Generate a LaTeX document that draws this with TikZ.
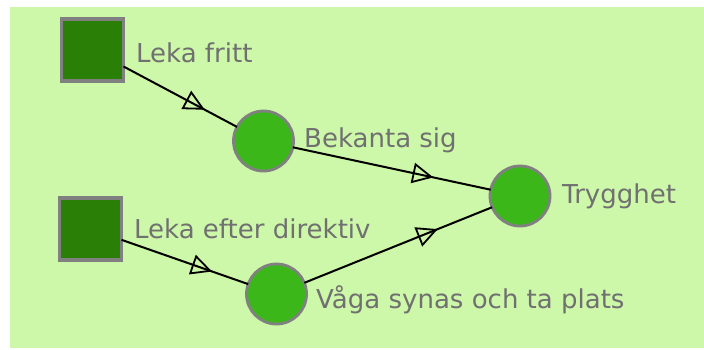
\documentclass[tikz,border=0pt]{standalone}
\usepackage{fontspec}
\setmainfont{DejaVu Sans}
\usetikzlibrary{decorations.markings}
\definecolor{bggreen}{HTML}{CDF7A9}
\definecolor{sqgreen}{HTML}{2A8006}
\definecolor{cigreen}{HTML}{3CB71A}
\definecolor{rimgray}{HTML}{808080}
\definecolor{txtgray}{HTML}{707070}
\tikzset{
  sqnode/.style={draw=rimgray, line width=3.2pt, fill=sqgreen, minimum size=62pt, inner sep=0pt, outer sep=0pt},
  cinode/.style={circle, draw=rimgray, line width=2.8pt, fill=cigreen, minimum size=60pt, inner sep=0pt, outer sep=0pt},
  lbl/.style={anchor=base west, inner sep=0pt, text=txtgray, font=\fontsize{26}{31}\selectfont},
  flow/.style={line width=2pt, black,
    postaction={decorate, decoration={markings,
      mark=at position 0.70 with {\draw[line width=1.8pt, black, line join=miter] (0pt,0pt) -- (-18pt,9pt) -- (-18pt,-9pt) -- cycle;}}}}
}
\begin{document}
\begin{tikzpicture}[x=1pt, y=-1pt]
\useasboundingbox (0,0) rectangle (704,349);
\fill[white] (0,0) rectangle (704,349);
\fill[bggreen] (10,7) rectangle (704,348);
% nodes
\node[sqnode] (s1) at (92.5,50) {};
\node[sqnode] (s2) at (90.5,229) {};
\node[cinode] (bek) at (263.5,141) {};
\node[cinode] (try) at (520,196) {};
\node[cinode] (vag) at (276.5,294) {};
% labels
\node[lbl] (l1) at (136,62) {Leka fritt};
\node[lbl] (l2) at (304,147) {Bekanta sig};
\node[lbl] (l3) at (562,203) {Trygghet};
\node[lbl] (l4) at (134,238) {Leka efter direktiv};
\node[lbl] (l5) at (316,308) {Våga synas och ta plats};
% connectors
\draw[flow] (s1) -- (bek);
\draw[flow] (bek) -- (try);
\draw[flow] (s2) -- (vag);
\draw[flow] (vag) -- (try);
\end{tikzpicture}
\end{document}
